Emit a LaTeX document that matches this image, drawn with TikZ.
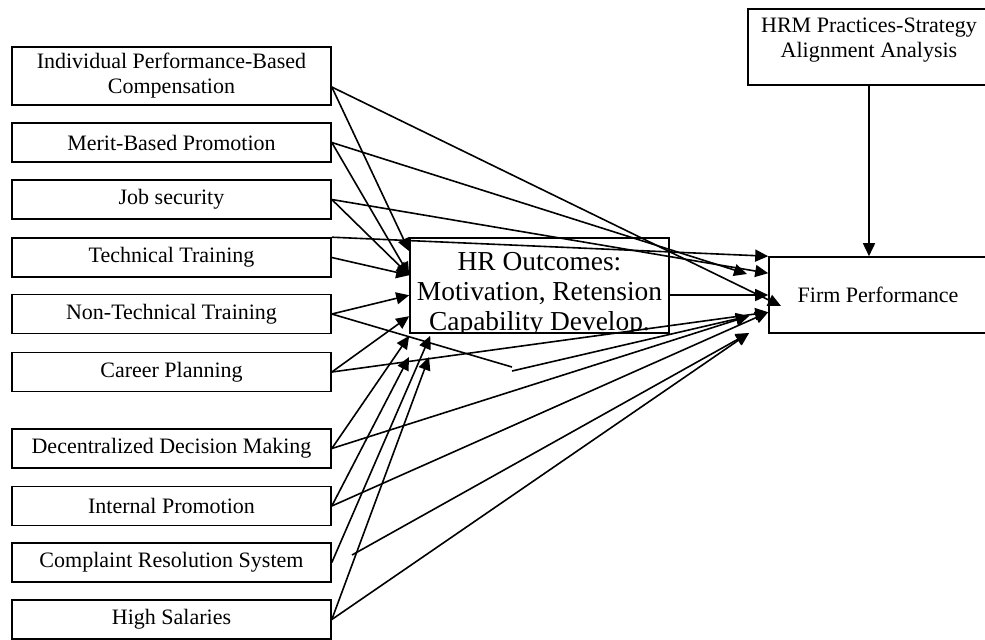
\documentclass[tikz,border=0pt]{standalone}
\usepackage{fontspec}
\setmainfont{Liberation Serif}
\usetikzlibrary{arrows.meta}

\tikzset{
  factor/.style={draw, line width=0.8pt, minimum width=159.5pt, minimum height=19.5pt,
    inner sep=1pt, align=center, font=\fontsize{11}{12.5}\selectfont},
  link/.style={line width=0.8pt, -{Triangle[length=6.5pt,width=6pt]}},
  plainlink/.style={line width=0.8pt},
}

\begin{document}
\begin{tikzpicture}[x=0.5pt,y=-0.5pt]
  \useasboundingbox (0,0) rectangle (985,639);
  % practices on the left
  \node[factor, minimum height=29pt] (b1) at (171.5,76) {Individual Performance-Based\\Compensation};
  \foreach \n/\y/\txt in {b2/142.5/Merit-Based Promotion, b3/199.5/Job security,
      b4/257.5/Technical Training, b5/314/Non-Technical Training, b6/372/Career Planning,
      b7/448.5/Decentralized Decision Making, b8/506/Internal Promotion,
      b9/562.5/Complaint Resolution System, b10/619.5/High Salaries}
    \node[factor] (\n) at (171.5,\y) {\txt};

  % outcomes, performance and alignment
  \node[draw, line width=0.8pt, minimum width=129.5pt, minimum height=47.5pt,
    path picture={\node[align=center, font=\fontsize{13.7}{15}\selectfont]
      at ([yshift=-4.5pt]path picture bounding box.center)
      {HR Outcomes:\\Motivation, Retension\\Capability Develop.};}] (hr) at (539.5,285.5) {};
  \node[factor, minimum width=109pt, minimum height=38pt] (fp) at (878,295) {Firm Performance};
  \node[draw, line width=0.8pt, minimum width=121pt, minimum height=38pt,
    label={[anchor=north, yshift=-1.5pt, align=center, font=\fontsize{11}{12.5}\selectfont]north:{HRM Practices-Strategy\\Alignment Analysis}}] (hrm) at (869,47) {};

  % arrow ends
  \coordinate (b1out) at ([yshift=-5.5pt]b1.east);
  \coordinate (hr1) at ([yshift=-7pt]hr.north west);
  \coordinate (hr2) at ([yshift=-19pt]hr.north west);
  \coordinate (hr3) at ([yshift=-29pt]hr.north west);
  \coordinate (hr4) at ([yshift=-39.5pt]hr.north west);
  \coordinate (hr5) at ([yshift=-1pt]hr.south west);
  \coordinate (hr6) at ([xshift=10.5pt,yshift=-1pt]hr.south west);
  \coordinate (ipend) at (409,357);
  \coordinate (hsend) at (429,357);
  \coordinate (fp2) at ([yshift=-8.5pt]fp.north west);
  \coordinate (fp3) at ([yshift=-28pt]fp.north west);
  \coordinate (mbpend) at (747,274);
  \coordinate (ipcend) at (781,306);
  \coordinate (ddmend) at (749,316);
  \coordinate (lowend) at (749,333);
  \coordinate (ntbend) at (512,367);
  \coordinate (ntrestart) at (512,371);
  \coordinate (crstart) at (352,555);

  % practices to outcomes
  \draw[link] (b1out) -- (hr1);
  \draw[link] (b2.east) -- (hr2);
  \draw[link] (b3.east) -- (hr2);
  \draw[link] (b4.east) -- (hr2);
  \draw[link] (b5.east) -- (hr3);
  \draw[link] (b6.east) -- (hr4);
  \draw[link] (b7.east) -- (hr5);
  \draw[link] (b8.east) -- (ipend);
  \draw[link] (b9.east) -- (hr6);
  \draw[link] (b10.east) -- (hsend);

  % practices to performance
  \draw[link] (b1out) -- (ipcend);
  \draw[link] (b2.east) -- (mbpend);
  \draw[link] (b3.east) -- (fp2);
  \draw[link] (b4.north east) -- (fp.north west);
  \draw[plainlink] (b5.east) -- (ntbend);
  \draw[link] (ntrestart) -- (ddmend);
  \draw[link] (b6.east) -- (fp3);
  \draw[link] (b7.east) -- (ddmend);
  \draw[link] (b8.east) -- (fp3);
  \draw[link] (crstart) -- (lowend);
  \draw[link] (b10.east) -- (lowend);

  \draw[link] (fp.west -| hr.east) -- (fp.west);
  \draw[link] (hrm.south) -- (hrm.south |- fp.north);
\end{tikzpicture}
\end{document}
